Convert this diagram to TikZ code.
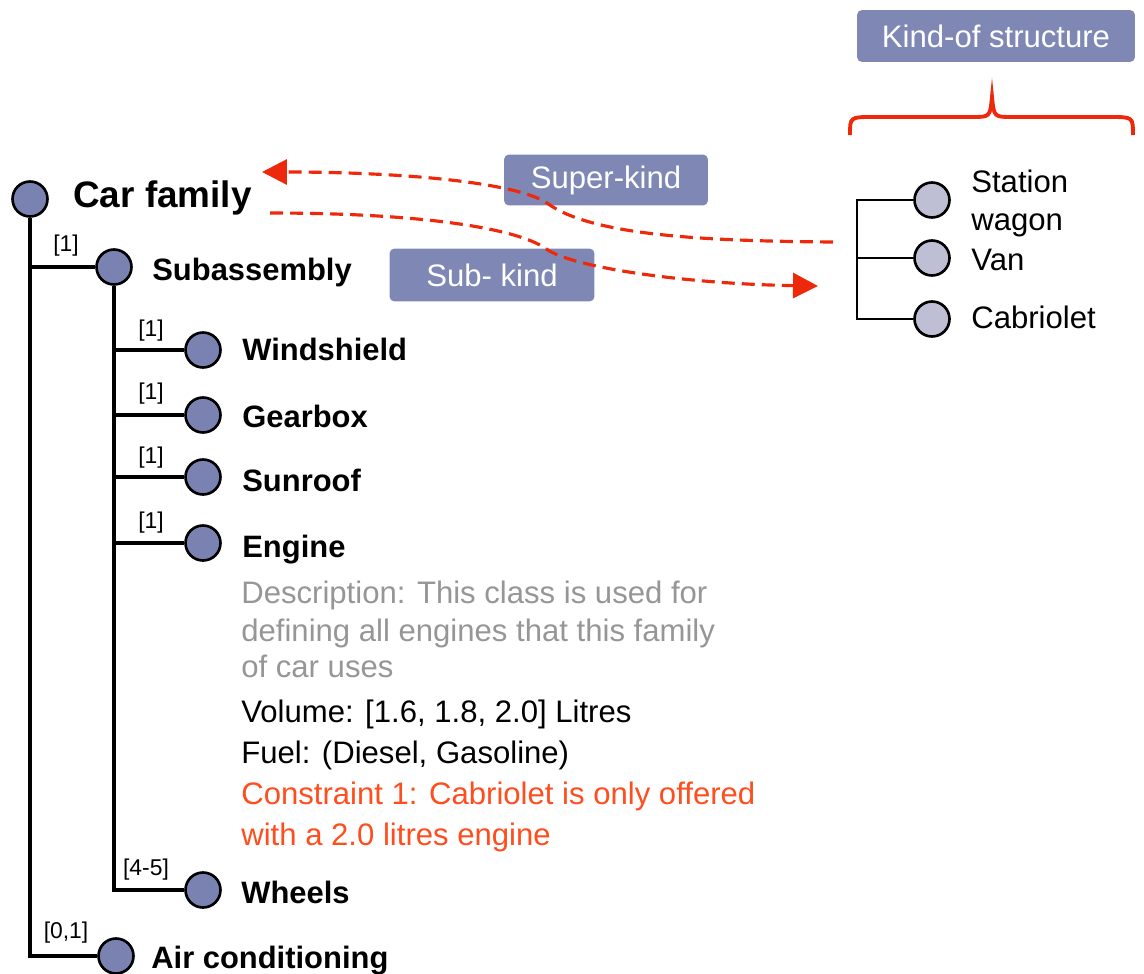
\documentclass[tikz,border=0pt]{standalone}
\usepackage{fontspec}
\setmainfont{Liberation Sans}
\usetikzlibrary{arrows.meta}

\definecolor{boxblue}{RGB}{127,136,181}
\definecolor{nodeblue}{RGB}{122,130,178}
\definecolor{nodelight}{RGB}{190,190,212}
\definecolor{kindred}{RGB}{238,40,10}
\definecolor{constraintred}{RGB}{255,77,30}
\definecolor{descgray}{RGB}{150,150,150}

\tikzset{
  part/.style={circle, draw=black, line width=1.5pt, fill=nodeblue,
    minimum size=0.7cm, inner sep=0pt},
  kindnode/.style={circle, draw=black, line width=1.5pt, fill=nodelight,
    minimum size=0.7cm, inner sep=0pt},
  treeline/.style={line width=2pt, draw=black},
  partlabel/.style={anchor=base west, inner sep=0pt,
    font=\fontsize{17.6}{21}\selectfont\bfseries},
  plain/.style={anchor=base west, inner sep=0pt,
    font=\fontsize{17.7}{21}\selectfont},
  mult/.style={anchor=center, inner sep=0pt,
    font=\fontsize{13}{15}\selectfont},
  tagbox/.style={rounded corners=0.1cm, fill=boxblue, text=white,
    inner sep=0pt, font=\fontsize{17.7}{21}\selectfont},
  kindarrow/.style={draw=kindred, line width=1.8pt,
    dash pattern=on 7.4pt off 4pt,
    -{Triangle[length=0.5cm, width=0.5cm]}},
}

\begin{document}
\begin{tikzpicture}[x=0.02cm, y=-0.02cm]
  \useasboundingbox (0,0) rectangle (1144,974);

  % ---- part tree ----
  \node[part] (car)   at (30,199) {};
  \node[part] (sub)   at (114,267) {};
  \node[part] (wind)  at (203,350) {};
  \node[part] (gear)  at (203,415) {};
  \node[part] (roof)  at (203,477) {};
  \node[part] (eng)   at (203,543) {};
  \node[part] (wheel) at (203,890) {};
  \node[part] (air)   at (116,956) {};

  \draw[treeline] (car) |- (sub);
  \draw[treeline] (car) |- (air);
  \draw[treeline] (sub) |- (wind);
  \draw[treeline] (sub) |- (gear);
  \draw[treeline] (sub) |- (roof);
  \draw[treeline] (sub) |- (eng);
  \draw[treeline] (sub) |- (wheel);

  \node[partlabel, font=\fontsize{21}{25}\selectfont\bfseries] (carlbl) at (73,207) {Car family};
  \node[partlabel] (sublbl)   at (152,280) {Subassembly};
  \node[partlabel] (windlbl)  at (242,360) {Windshield};
  \node[partlabel] (gearlbl)  at (242,427) {Gearbox};
  \node[partlabel] (rooflbl)  at (242,491) {Sunroof};
  \node[partlabel] (englbl)   at (242,557) {Engine};
  \node[partlabel] (wheellbl) at (241,903) {Wheels};
  \node[partlabel] (airlbl)   at (151,968) {Air conditioning};

  \node[mult] (m-sub)   at (66,246) {[1]};
  \node[mult] (m-wind)  at (151,331) {[1]};
  \node[mult] (m-gear)  at (151,394) {[1]};
  \node[mult] (m-roof)  at (151,458) {[1]};
  \node[mult] (m-eng)   at (151,523) {[1]};
  \node[mult] (m-wheel) at (146,870) {[4-5]};
  \node[mult] (m-air)   at (66,933) {[0,1]};

  % ---- engine attributes ----
  \node[plain, text=descgray] (d1) at (241,603) {Description: This class is used for};
  \node[plain, text=descgray] (d2) at (241,641) {defining all engines that this family};
  \node[plain, text=descgray] (d3) at (241,677) {of car uses};
  \node[plain] (vol)  at (241,722) {Volume: [1.6, 1.8, 2.0] Litres};
  \node[plain] (fuel) at (241,763) {Fuel: (Diesel, Gasoline)};
  \node[plain, text=constraintred] (c1) at (241,804) {Constraint 1: Cabriolet is only offered};
  \node[plain, text=constraintred] (c2) at (241,845) {with a 2.0 litres engine};

  % ---- kind-of structure ----
  \node[tagbox, minimum width=5.56cm, minimum height=1.04cm] (kindtag) at (996,36) {Kind-of structure};

  \draw[draw=kindred, line width=2.2pt]
    (850,135) .. controls (850,117) .. (873,117) -- (972,117)
    .. controls (990,117) .. (992,97)
    .. controls (994,117) .. (1012,117) -- (1110,117)
    .. controls (1133,117) .. (1133,135);

  \node[kindnode] (sw)  at (932,200) {};
  \node[kindnode] (van) at (932,258) {};
  \node[kindnode] (cab) at (932,319) {};
  \coordinate (ktop) at (857,200);
  \draw[line width=1.7pt] (sw) -- (ktop) |- (cab);
  \draw[line width=1.7pt] (ktop |- van) -- (van);

  \node[plain] (swlbl1) at (971,192) {Station};
  \node[plain] (swlbl2) at (971,230) {wagon};
  \node[plain] (vanlbl) at (971,270) {Van};
  \node[plain] (cablbl) at (971,328) {Cabriolet};

  % ---- super-kind / sub-kind links ----
  \node[tagbox, minimum width=4.08cm, minimum height=1.02cm] (supertag) at (606,180) {Super-kind};
  \node[tagbox, minimum width=4.1cm, minimum height=1.06cm] (subtag) at (492,275) {Sub- kind};

  \coordinate (super-from) at (833,242);
  \coordinate (super-to)   at (262,172);
  \coordinate (sub-from)   at (270,213);
  \coordinate (sub-to)     at (818,286);

  \draw[kindarrow] (super-from) .. controls (700,241) and (590,235) .. (547,203)
    .. controls (515,182) and (400,172) .. (super-to);
  \draw[kindarrow] (sub-from) .. controls (420,213) and (515,228) .. (545,248)
    .. controls (570,268) and (690,284) .. (sub-to);
\end{tikzpicture}
\end{document}
